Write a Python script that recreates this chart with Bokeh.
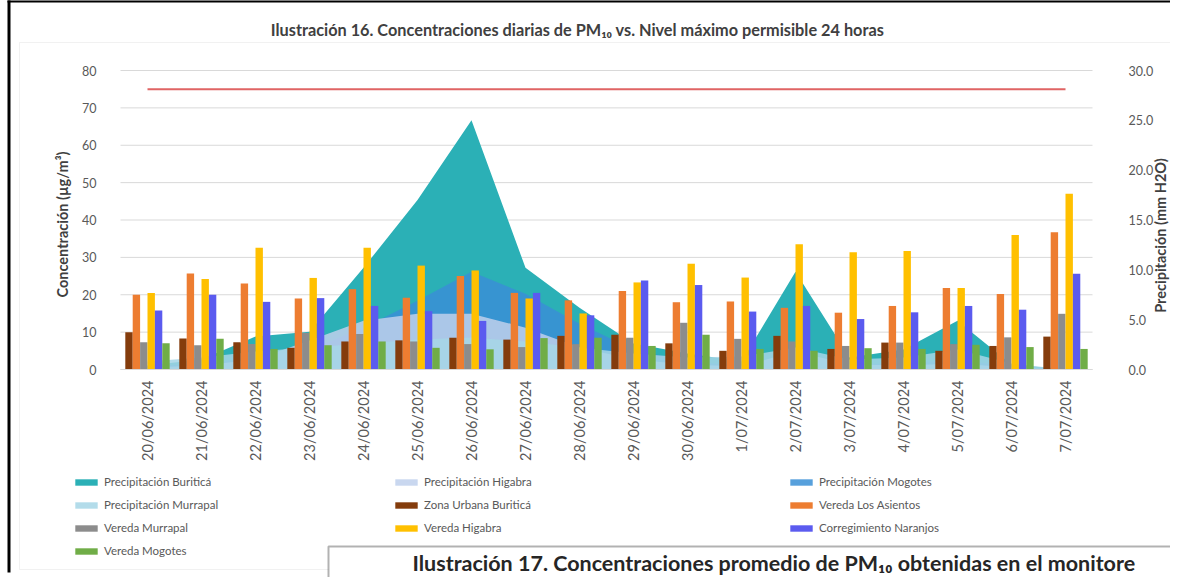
import math
from bokeh.plotting import figure
from bokeh.models import (Range1d, LinearAxis, FixedTicker, NumeralTickFormatter, Legend,
                          LegendItem, Label, BoxAnnotation, ColumnDataSource)
from bokeh.transform import dodge
from bokeh.embed import file_html
from bokeh.resources import INLINE

# ---------------- data ----------------
fechas = ["20/06/2024", "21/06/2024", "22/06/2024", "23/06/2024", "24/06/2024", "25/06/2024",
          "26/06/2024", "27/06/2024", "28/06/2024", "29/06/2024", "30/06/2024", "1/07/2024",
          "2/07/2024", "3/07/2024", "4/07/2024", "5/07/2024", "6/07/2024", "7/07/2024"]

# precipitation (mm H2O), right axis
prec_buritica = [0.4, 1.0, 3.3, 3.8, 10.2, 17.0, 25.0, 10.2, 6.2, 2.6, 1.6, 0.8, 9.8, 1.2, 2.0, 4.9, 0.5, 0.0]
prec_higabra = [0.2, 0.4, 1.0, 2.9, 4.9, 5.6, 5.6, 4.2, 2.2, 1.0, 0.5, 0.3, 1.8, 0.5, 0.4, 0.6, 0.2, 0.0]
prec_mogotes = [0.3, 0.6, 1.2, 2.0, 4.2, 6.9, 9.8, 7.6, 4.6, 2.0, 0.8, 0.4, 1.5, 0.5, 0.6, 1.0, 0.3, 0.0]
prec_murrapal = [0.8, 1.2, 1.8, 2.2, 2.6, 3.0, 3.2, 2.8, 2.2, 1.6, 1.2, 1.3, 2.2, 1.0, 1.2, 2.0, 0.6, 0.0]

# PM10 concentrations (ug/m3), left axis
zona_urbana_buritica = [10.0, 8.3, 7.3, 5.8, 7.5, 7.8, 8.5, 8.0, 9.0, 9.3, 7.0, 5.0, 9.0, 5.5, 7.2, 5.0, 6.3, 8.8]
vereda_los_asientos = [20.0, 25.7, 23.0, 19.0, 21.5, 19.2, 25.0, 20.5, 18.5, 21.0, 18.0, 18.2, 16.5, 15.2, 17.0, 21.8, 20.2, 36.7]
vereda_murrapal = [7.3, 6.5, 6.8, 9.8, 9.5, 7.5, 6.8, 6.0, 6.8, 8.5, 12.5, 8.2, 7.5, 6.3, 7.2, 6.8, 8.6, 14.9]
vereda_higabra = [20.5, 24.2, 32.6, 24.5, 32.6, 27.8, 26.5, 19.0, 15.0, 23.3, 28.3, 24.6, 33.5, 31.4, 31.7, 21.8, 36.0, 47.0]
corregimiento_naranjos = [15.8, 20.0, 18.1, 19.1, 17.0, 15.6, 13.0, 20.5, 14.5, 23.8, 22.6, 15.5, 17.0, 13.5, 15.3, 17.0, 16.0, 25.6]
vereda_mogotes = [7.0, 8.2, 5.5, 6.5, 7.5, 5.8, 5.4, 8.4, 8.5, 6.3, 9.3, 5.5, 5.0, 5.7, 5.5, 6.6, 6.0, 5.5]

# maximum permissible level, 24 h
nivel_maximo = [75, 75, 75, 75, 75, 75, 75, 75, 75, 75, 75, 75, 75, 75, 75, 75, 75, 75]

left_ticks = [0, 10, 20, 30, 40, 50, 60, 70, 80]
right_ticks = [0, 5, 10, 15, 20, 25, 30]

# ---------------- layout (page pixels) ----------------
W, H = 1170, 577
PX0, PY0 = 8, 8                      # canvas origin on the page
AL, AT, AR, AB = 128, 78, 1100, 377  # plot area on the page
n = len(fechas)
pos = list(range(n))
kx = (AR - AL) / n
ky = (AB - AT) / 80.0
x_start = -0.5 - (AL - PX0) / kx
x_end = n - 0.5 + (PX0 + W - AR) / kx
y_start = -(PY0 + H - AB) / ky
y_end = 80 + (AT - PY0) / ky
r2l = 30.0 / 80.0


def dx(X):
    return (X - AL) / kx - 0.5


def dy(Y):
    return (AB - Y) / ky


FONT = "Lato"
TXT = "#595959"

src = ColumnDataSource(dict(
    x=pos,
    pb=prec_buritica, ph=prec_higabra, pm=prec_mogotes, pu=prec_murrapal,
    zu=zona_urbana_buritica, la=vereda_los_asientos, vm=vereda_murrapal,
    vh=vereda_higabra, cn=corregimiento_naranjos, vg=vereda_mogotes,
    lim=nivel_maximo,
))

p = figure(width=W, height=H, x_range=Range1d(x_start, x_end), y_range=Range1d(y_start, y_end),
           x_axis_type=None, y_axis_type=None, output_backend="svg", toolbar_location=None,
           min_border=0, min_border_left=0, min_border_right=0, min_border_top=0, min_border_bottom=0)
p.title.visible = False
p.extra_y_ranges = {"prec": Range1d(y_start * r2l, y_end * r2l)}
p.outline_line_color = None
p.xgrid.visible = False
p.ygrid.visible = False

# gridlines of the plot area
p.segment(x0=-0.5, x1=n - 0.5, y0=left_ticks, y1=left_ticks, line_color="#D9D9D9", line_width=1)

# precipitation areas (right axis)
r_pb = p.varea(x="x", y1=0, y2="pb", source=src, y_range_name="prec", fill_color="#2BB0B6")
r_pm = p.varea(x="x", y1=0, y2="pm", source=src, y_range_name="prec", fill_color="#3A8FD6", fill_alpha=0.85)
r_ph = p.varea(x="x", y1=0, y2="ph", source=src, y_range_name="prec", fill_color="#BFD0EC", fill_alpha=0.85)
r_pu = p.varea(x="x", y1=0, y2="pu", source=src, y_range_name="prec", fill_color="#A6D6E6", fill_alpha=0.85)

# concentration bars (left axis)
bw = 0.137
series = [("zu", "#843C0C", -2.5), ("la", "#ED7D31", -1.5), ("vm", "#8C8C8C", -0.5),
          ("vh", "#FFC000", 0.5), ("cn", "#5B5BEF", 1.5), ("vg", "#70AD47", 2.5)]
bars = {}
for col, colr, k in series:
    bars[col] = p.vbar(x=dodge("x", k * bw), top=col, width=bw, source=src,
                       fill_color=colr, line_color=None)

r_lim = p.line(x="x", y="lim", source=src, line_color="#E06464", line_width=2)

# axes
yl = LinearAxis(ticker=FixedTicker(ticks=left_ticks), fixed_location=-0.5, bounds=(0, 80))
yr = LinearAxis(y_range_name="prec", ticker=FixedTicker(ticks=right_ticks),
                formatter=NumeralTickFormatter(format="0.0"), fixed_location=n - 0.5, bounds=(0, 30))
xb = LinearAxis(ticker=FixedTicker(ticks=pos), fixed_location=0, bounds=(-0.5, n - 0.5),
                major_label_overrides={i: f for i, f in zip(pos, fechas)})
for ax in (yl, yr, xb):
    ax.major_tick_line_color = None
    ax.minor_tick_line_color = None
    ax.major_label_text_font = FONT
    ax.major_label_text_color = TXT
yl.axis_line_color = None
yr.axis_line_color = None
yl.major_label_text_font_size = "12.5px"
yr.major_label_text_font_size = "12.5px"
yl.major_label_standoff = 18
yr.major_label_standoff = 30
xb.axis_line_color = "#D9D9D9"
xb.major_label_orientation = math.pi / 2
xb.major_label_text_font_size = "14.5px"
xb.major_label_standoff = 5
p.add_layout(yl, "left")
p.add_layout(yr, "right")
p.add_layout(xb, "below")

# titles
p.add_layout(Label(x=dx(585), y=dy(37),
                   text="Ilustración 16. Concentraciones diarias de PM₁₀ vs. Nivel máximo permisible 24 horas",
                   text_font=FONT, text_font_size="16.3px", text_font_style="bold", text_color="#404040",
                   text_align="center", text_baseline="middle"))
p.add_layout(Label(x=dx(70), y=dy(232), angle=math.pi / 2,
                   text="Concentración (µg/m³)", text_font=FONT, text_font_size="14.5px",
                   text_font_style="bold", text_color="#404040",
                   text_align="center", text_baseline="middle"))
p.add_layout(Label(x=dx(1168), y=dy(243), angle=math.pi / 2,
                   text="Precipitación (mm H2O)", text_font=FONT, text_font_size="14.5px",
                   text_font_style="bold", text_color="#404040",
                   text_align="center", text_baseline="middle"))


# legends (three columns)
ROW_H, ROW_GAP, LEG_TOP = 17, 6, 481


def add_legend(items, xabs):
    nrows = len(items)
    h = nrows * ROW_H + (nrows - 1) * ROW_GAP
    lg = Legend(items=items, location=(xabs - PX0, (PY0 + H) - (LEG_TOP + h)), orientation="vertical",
                glyph_width=28, glyph_height=8, label_height=ROW_H, spacing=ROW_GAP, padding=0, margin=0,
                label_standoff=4, border_line_color=None, background_fill_alpha=0,
                label_text_font=FONT, label_text_font_size="11.5px", label_text_color=TXT)
    p.add_layout(lg, "center")


add_legend([LegendItem(label="Precipitación Buriticá", renderers=[r_pb]),
            LegendItem(label="Precipitación Murrapal", renderers=[r_pu]),
            LegendItem(label="Vereda Murrapal", renderers=[bars["vm"]]),
            LegendItem(label="Vereda Mogotes", renderers=[bars["vg"]])], 80)
add_legend([LegendItem(label="Precipitación Higabra", renderers=[r_ph]),
            LegendItem(label="Zona Urbana Buriticá", renderers=[bars["zu"]]),
            LegendItem(label="Vereda Higabra", renderers=[bars["vh"]])], 400)
add_legend([LegendItem(label="Precipitación Mogotes", renderers=[r_pm]),
            LegendItem(label="Vereda Los Asientos", renderers=[bars["la"]]),
            LegendItem(label="Corregimiento Naranjos", renderers=[bars["cn"]])], 795)

# page frame decorations
p.add_layout(BoxAnnotation(left=dx(27), right=x_end + 5, top=dy(50), bottom=dy(577),
                           fill_alpha=0, line_color="#CFCFCF", line_width=1))
p.add_layout(BoxAnnotation(left=dx(15), right=dx(18), top=y_end + 5, bottom=dy(580),
                           fill_color="black", fill_alpha=1, line_color=None))
p.add_layout(BoxAnnotation(left=dx(15), right=x_end + 5, top=y_end + 5, bottom=dy(10),
                           fill_color="black", fill_alpha=1, line_color=None))

# box of the next figure caption overlapping the bottom
p.add_layout(BoxAnnotation(left=dx(336), right=x_end + 5, top=dy(554), bottom=y_start - 5,
                           fill_color="white", fill_alpha=1, line_color="black", line_width=2,
                           level="overlay"))
p.add_layout(Label(x=dx(420), y=dy(570),
                   text="Ilustración 17. Concentraciones promedio de PM₁₀ obtenidas en el monitore",
                   text_font=FONT, text_font_size="21.5px", text_font_style="bold", text_color="#262626",
                   text_align="left", text_baseline="middle", level="overlay"))

open("out.html", "w").write(file_html(p, INLINE))
